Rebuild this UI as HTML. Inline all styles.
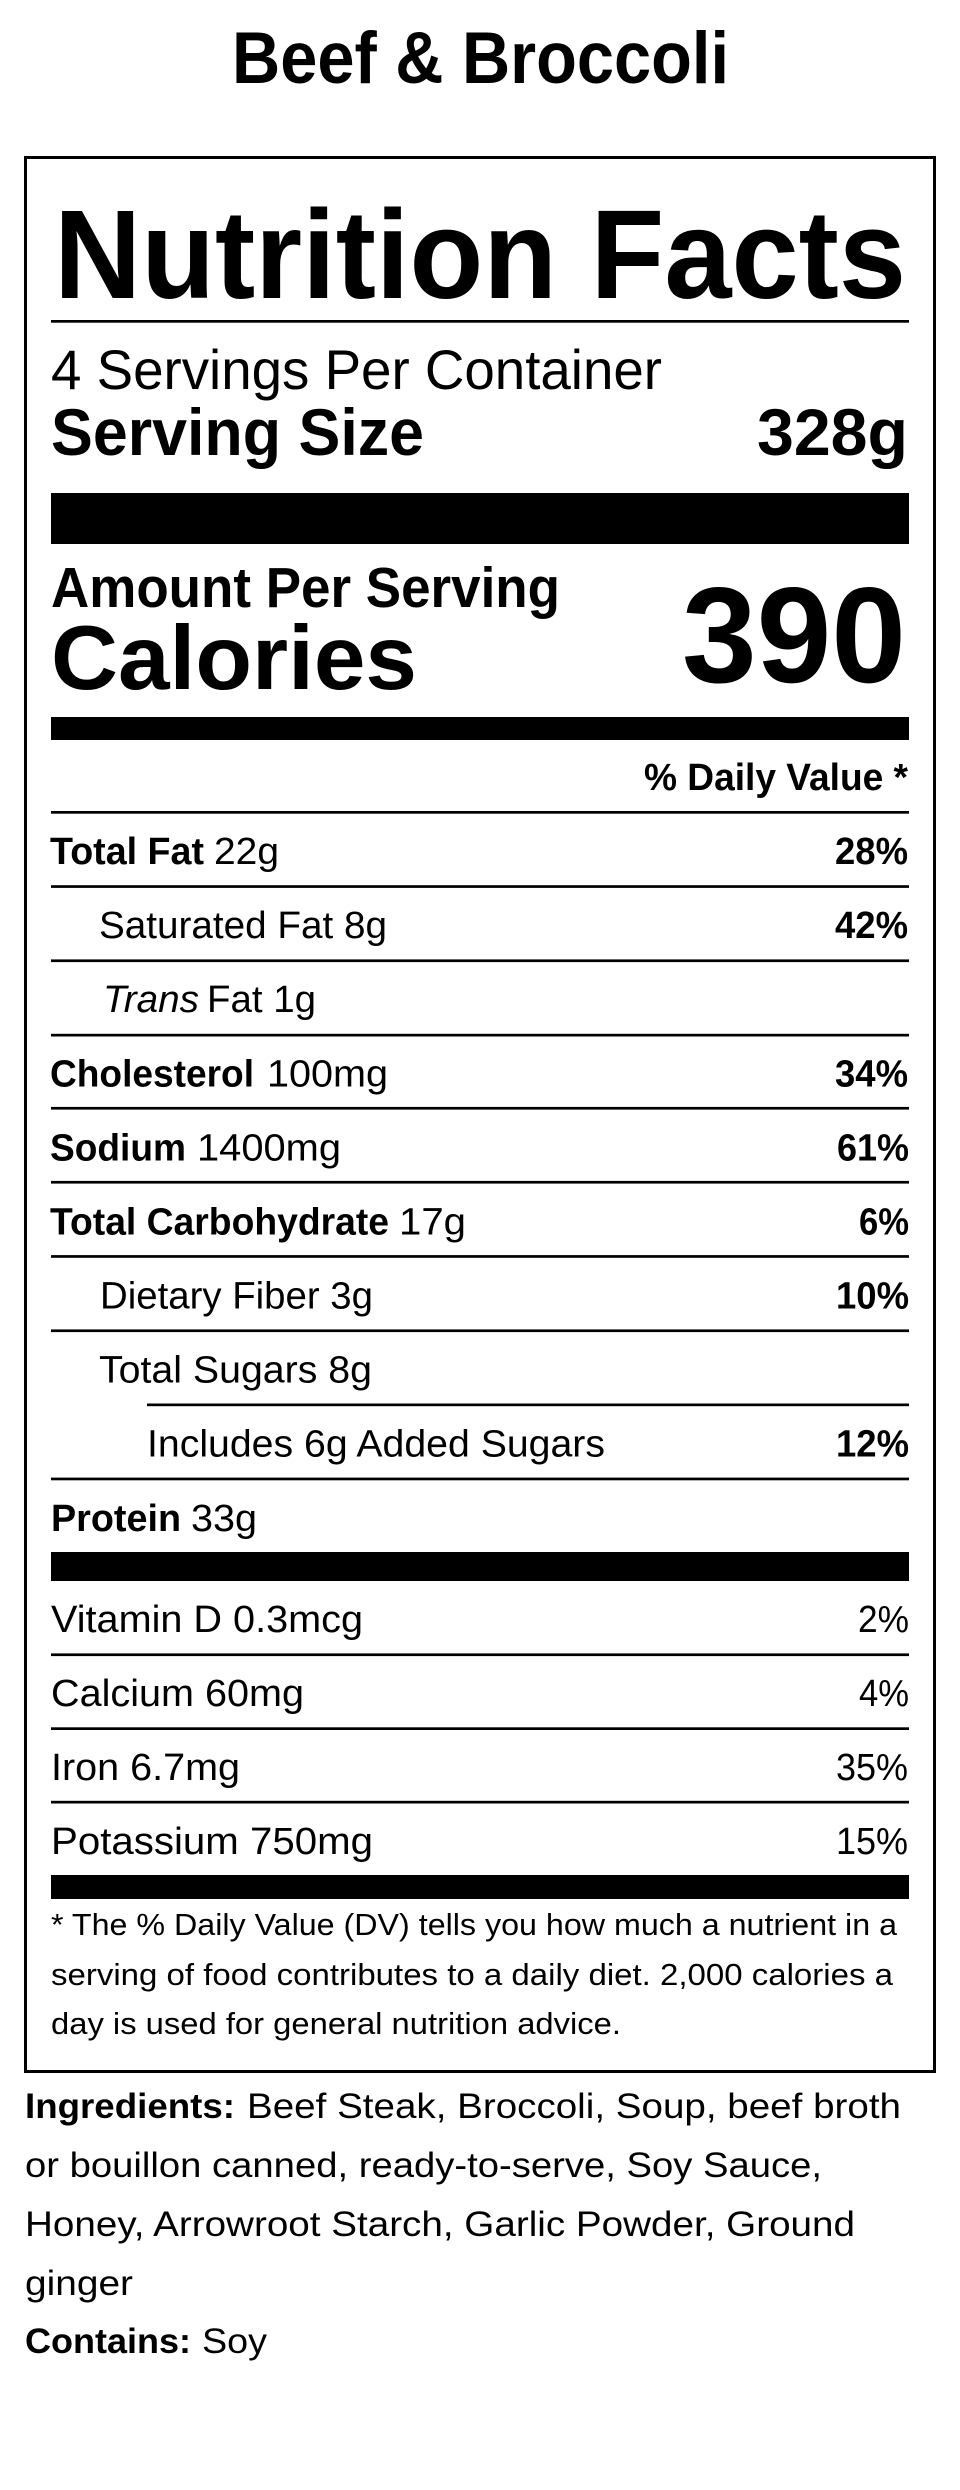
<!DOCTYPE html>
<html>
<head>
<meta charset="utf-8">
<style>
  html, body { margin: 0; padding: 0; background: #fff; }
  svg { display: block; }
  text { font-family: "Liberation Sans", Arial, sans-serif; fill: #000; }
  .b { font-weight: bold; }
  .i { font-style: italic; }
</style>
</head>
<body>
<svg width="960" height="2490" viewBox="0 0 960 2490" xmlns="http://www.w3.org/2000/svg">
  <rect x="0" y="0" width="960" height="2490" fill="#fff"/>

  <!-- Title -->
  <text class="b" x="232" y="83" font-size="73" textLength="497" lengthAdjust="spacingAndGlyphs">Beef &amp; Broccoli</text>

  <!-- Box border -->
  <rect x="24" y="156" width="912" height="3" fill="#000"/>
  <rect x="24" y="2070" width="912" height="3" fill="#000"/>
  <rect x="24" y="156" width="3" height="1917" fill="#000"/>
  <rect x="933" y="156" width="3" height="1917" fill="#000"/>

  <!-- Nutrition Facts -->
  <text class="b" x="54" y="298" font-size="126" textLength="852" lengthAdjust="spacingAndGlyphs">Nutrition Facts</text>
  <rect x="51" y="320" width="858" height="2.7" fill="#000"/>

  <text x="51" y="389" font-size="56" textLength="611" lengthAdjust="spacingAndGlyphs">4 Servings Per Container</text>
  <text class="b" x="51" y="455" font-size="66" textLength="373" lengthAdjust="spacingAndGlyphs">Serving Size</text>
  <text class="b" x="908" y="455" font-size="66" text-anchor="end" textLength="151" lengthAdjust="spacingAndGlyphs">328g</text>

  <rect x="51" y="493" width="858" height="51" fill="#000"/>

  <text class="b" x="51" y="607" font-size="57" textLength="509" lengthAdjust="spacingAndGlyphs">Amount Per Serving</text>
  <text class="b" x="51" y="689" font-size="91" textLength="366" lengthAdjust="spacingAndGlyphs">Calories</text>
  <text class="b" x="906" y="682" font-size="136" text-anchor="end" textLength="224" lengthAdjust="spacingAndGlyphs">390</text>

  <rect x="51" y="717" width="858" height="23" fill="#000"/>

  <text class="b" x="908" y="790" font-size="38" text-anchor="end" textLength="264" lengthAdjust="spacingAndGlyphs">% Daily Value *</text>
  <rect x="51" y="811" width="858" height="2.7" fill="#000"/>

  <!-- Row 0: Total Fat -->
  <text class="b" x="50" y="864" font-size="38" textLength="154" lengthAdjust="spacingAndGlyphs">Total Fat</text>
  <text x="214" y="864" font-size="38" textLength="65" lengthAdjust="spacingAndGlyphs">22g</text>
  <text class="b" x="908" y="864" font-size="38" text-anchor="end" textLength="73" lengthAdjust="spacingAndGlyphs">28%</text>
  <rect x="51" y="885.2" width="858" height="2.7" fill="#000"/>

  <!-- Row 1: Saturated Fat -->
  <text x="99" y="938" font-size="38" textLength="288" lengthAdjust="spacingAndGlyphs">Saturated Fat 8g</text>
  <text class="b" x="908" y="938" font-size="38" text-anchor="end" textLength="73" lengthAdjust="spacingAndGlyphs">42%</text>
  <rect x="51" y="959.4" width="858" height="2.7" fill="#000"/>

  <!-- Row 2: Trans Fat -->
  <text class="i" x="103" y="1012" font-size="38" textLength="96" lengthAdjust="spacingAndGlyphs">Trans</text>
  <text x="207" y="1012" font-size="38" textLength="109" lengthAdjust="spacingAndGlyphs">Fat 1g</text>
  <rect x="51" y="1033.8" width="858" height="2.7" fill="#000"/>

  <!-- Row 3: Cholesterol -->
  <text class="b" x="50" y="1086.5" font-size="38" textLength="204" lengthAdjust="spacingAndGlyphs">Cholesterol</text>
  <text x="267" y="1086.5" font-size="38" textLength="121" lengthAdjust="spacingAndGlyphs">100mg</text>
  <text class="b" x="908" y="1086.5" font-size="38" text-anchor="end" textLength="73" lengthAdjust="spacingAndGlyphs">34%</text>
  <rect x="51" y="1106.9" width="858" height="2.7" fill="#000"/>

  <!-- Row 4: Sodium -->
  <text class="b" x="50" y="1160.5" font-size="38" textLength="136" lengthAdjust="spacingAndGlyphs">Sodium</text>
  <text x="197" y="1160.5" font-size="38" textLength="144" lengthAdjust="spacingAndGlyphs">1400mg</text>
  <text class="b" x="909" y="1160.5" font-size="38" text-anchor="end" textLength="72" lengthAdjust="spacingAndGlyphs">61%</text>
  <rect x="51" y="1180.9" width="858" height="2.7" fill="#000"/>

  <!-- Row 5: Total Carbohydrate -->
  <text class="b" x="50" y="1234.5" font-size="38" textLength="339" lengthAdjust="spacingAndGlyphs">Total Carbohydrate</text>
  <text x="399" y="1234.5" font-size="38" textLength="67" lengthAdjust="spacingAndGlyphs">17g</text>
  <text class="b" x="909" y="1234.5" font-size="38" text-anchor="end" textLength="50" lengthAdjust="spacingAndGlyphs">6%</text>
  <rect x="51" y="1255.1" width="858" height="2.7" fill="#000"/>

  <!-- Row 6: Dietary Fiber -->
  <text x="100" y="1308.5" font-size="38" textLength="273" lengthAdjust="spacingAndGlyphs">Dietary Fiber 3g</text>
  <text class="b" x="909" y="1308.5" font-size="38" text-anchor="end" textLength="73" lengthAdjust="spacingAndGlyphs">10%</text>
  <rect x="51" y="1329.4" width="858" height="2.7" fill="#000"/>

  <!-- Row 7: Total Sugars -->
  <text x="99" y="1382.5" font-size="38" textLength="273" lengthAdjust="spacingAndGlyphs">Total Sugars 8g</text>
  <rect x="147" y="1403.5" width="762" height="2.7" fill="#000"/>

  <!-- Row 8: Added Sugars -->
  <text x="147" y="1456.5" font-size="38" textLength="458" lengthAdjust="spacingAndGlyphs">Includes 6g Added Sugars</text>
  <text class="b" x="909" y="1456.5" font-size="38" text-anchor="end" textLength="73" lengthAdjust="spacingAndGlyphs">12%</text>
  <rect x="51" y="1477.6" width="858" height="2.7" fill="#000"/>

  <!-- Row 9: Protein -->
  <text class="b" x="51" y="1531" font-size="38" textLength="130" lengthAdjust="spacingAndGlyphs">Protein</text>
  <text x="191" y="1531" font-size="38" textLength="66" lengthAdjust="spacingAndGlyphs">33g</text>

  <rect x="51" y="1552" width="858" height="29" fill="#000"/>

  <!-- Vitamins -->
  <text x="51" y="1632" font-size="38" textLength="312" lengthAdjust="spacingAndGlyphs">Vitamin D 0.3mcg</text>
  <text x="909" y="1632" font-size="38" text-anchor="end" textLength="51" lengthAdjust="spacingAndGlyphs">2%</text>
  <rect x="51" y="1653.4" width="858" height="2.7" fill="#000"/>

  <text x="51" y="1706" font-size="38" textLength="253" lengthAdjust="spacingAndGlyphs">Calcium 60mg</text>
  <text x="909" y="1706" font-size="38" text-anchor="end" textLength="50" lengthAdjust="spacingAndGlyphs">4%</text>
  <rect x="51" y="1727.3" width="858" height="2.7" fill="#000"/>

  <text x="51" y="1780" font-size="38" textLength="189" lengthAdjust="spacingAndGlyphs">Iron 6.7mg</text>
  <text x="908" y="1780" font-size="38" text-anchor="end" textLength="72" lengthAdjust="spacingAndGlyphs">35%</text>
  <rect x="51" y="1800.8" width="858" height="2.7" fill="#000"/>

  <text x="51" y="1854" font-size="38" textLength="322" lengthAdjust="spacingAndGlyphs">Potassium 750mg</text>
  <text x="908" y="1854" font-size="38" text-anchor="end" textLength="72" lengthAdjust="spacingAndGlyphs">15%</text>

  <rect x="51" y="1875" width="858" height="24" fill="#000"/>

  <!-- Footnote -->
  <text x="51" y="1935" font-size="31" textLength="846" lengthAdjust="spacingAndGlyphs">* The % Daily Value (DV) tells you how much a nutrient in a</text>
  <text x="51" y="1985" font-size="31" textLength="842" lengthAdjust="spacingAndGlyphs">serving of food contributes to a daily diet. 2,000 calories a</text>
  <text x="51" y="2034" font-size="31" textLength="570" lengthAdjust="spacingAndGlyphs">day is used for general nutrition advice.</text>

  <!-- Ingredients -->
  <text class="b" x="25" y="2118" font-size="35" textLength="210" lengthAdjust="spacingAndGlyphs">Ingredients:</text>
  <text x="247" y="2118" font-size="35" textLength="654" lengthAdjust="spacingAndGlyphs">Beef Steak, Broccoli, Soup, beef broth</text>
  <text x="25" y="2177" font-size="35" textLength="797" lengthAdjust="spacingAndGlyphs">or bouillon canned, ready-to-serve, Soy Sauce,</text>
  <text x="25" y="2236" font-size="35" textLength="830" lengthAdjust="spacingAndGlyphs">Honey, Arrowroot Starch, Garlic Powder, Ground</text>
  <text x="25" y="2295" font-size="35" textLength="108" lengthAdjust="spacingAndGlyphs">ginger</text>
  <text class="b" x="25" y="2353" font-size="35" textLength="166" lengthAdjust="spacingAndGlyphs">Contains:</text>
  <text x="202" y="2353" font-size="35" textLength="65" lengthAdjust="spacingAndGlyphs">Soy</text>
</svg>
</body>
</html>
